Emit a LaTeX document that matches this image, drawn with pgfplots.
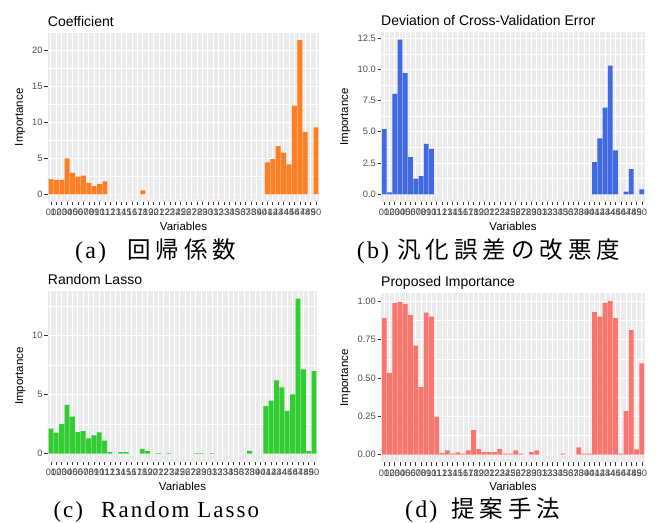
\documentclass[border=0pt]{standalone}
\usepackage{fontspec}
\setmainfont{Liberation Sans}
\newfontfamily\cjk{Noto Sans CJK JP}
\newfontfamily\capserif[LetterSpace=9]{Liberation Serif}
\usepackage{pgfplots}
\pgfplotsset{compat=1.18}
\definecolor{ggbg}{HTML}{EBEBEB}
\definecolor{gray30}{HTML}{4D4D4D}
\definecolor{gray20}{HTML}{333333}
\definecolor{cOrange}{HTML}{FF7F24}
\definecolor{cBlue}{HTML}{4169E1}
\definecolor{cGreen}{HTML}{32CD32}
\definecolor{cSalmon}{HTML}{F8766D}
\pgfplotsset{
  gg/.style={
    scale only axis,
    axis background/.style={fill=ggbg},
    axis line style={draw=none},
    tick align=outside,
    major tick length=3.5pt,
    minor tick length=0pt,
    tick style={color=gray20, line width=0.6pt},
    tick pos=left,
    xmin=0.4, xmax=50.6,
    enlargelimits=false,
    xtick={1,...,50},
    xticklabels={01,02,03,04,05,06,07,08,09,10,11,12,13,14,15,16,17,18,19,20,21,22,23,24,25,26,27,28,29,30,31,32,33,34,35,36,37,38,39,40,41,42,43,44,45,46,47,48,49,50},
    xmajorgrids, ymajorgrids, yminorgrids,
    major grid style={white, line width=0.9pt},
    minor grid style={white, line width=0.45pt},
    ybar, bar width=0.9,
    ticklabel style={font=\fontsize{9.3}{10}\selectfont, text=gray30},
    xticklabel style={inner sep=1pt, yshift=-2.5pt},
    yticklabel style={inner sep=1.5pt},
    title style={at={(0,1)}, anchor=base west, yshift=0pt, inner sep=0pt, font=\fontsize{14}{16}\selectfont},
    xlabel={Variables},
    ylabel={Importance},
    xlabel style={at={(axis description cs:0.5,0)}, anchor=base, yshift=-28.5pt, inner sep=0pt, font=\fontsize{11.5}{13}\selectfont},
    ylabel style={anchor=base, inner sep=0pt, font=\fontsize{11.5}{13}\selectfont},
  }
}
\begin{document}
\begin{tikzpicture}
\useasboundingbox (0pt,0pt) rectangle (660pt,522pt);

% (a) Coefficient
\begin{axis}[gg, at={(47.7pt,320pt)}, anchor=south west, width=271.6pt, height=169.5pt,
  ymin=-1.07, ymax=22.52,
  ytick={0,5,10,15,20}, yticklabels={0,5,10,15,20},
  minor ytick={2.5,7.5,12.5,17.5,22.5},
  title={Coefficient},
  ylabel style={at={(axis description cs:-0.091,0.5)}}]
\addplot[fill=cOrange, draw=none] coordinates {
(1,2.1) (2,2.0) (3,2.0) (4,5.0) (5,3.0) (6,2.45) (7,2.6) (8,1.6) (9,1.15) (10,1.4)
(11,1.8) (12,0) (13,0) (14,0) (15,0) (16,0) (17,0) (18,0.55) (19,0) (20,0)
(21,0) (22,0) (23,0) (24,0) (25,0) (26,0) (27,0) (28,0) (29,0) (30,0)
(31,0) (32,0) (33,0) (34,0) (35,0) (36,0) (37,0) (38,0) (39,0) (40,0)
(41,4.45) (42,4.9) (43,6.7) (44,5.8) (45,4.15) (46,12.35) (47,21.45) (48,8.65) (49,0) (50,9.3)};
\end{axis}

% (b) Deviation of CV error
\begin{axis}[gg, at={(381pt,320pt)}, anchor=south west, width=264pt, height=170pt,
  ymin=-0.62, ymax=12.99,
  ytick={0,2.5,5,7.5,10,12.5}, yticklabels={0.0,2.5,5.0,7.5,10.0,12.5},
  minor ytick={1.25,3.75,6.25,8.75,11.25},
  title={Deviation of Cross-Validation Error},
  ylabel style={at={(axis description cs:-0.125,0.5)}}]
\addplot[fill=cBlue, draw=none] coordinates {
(1,5.21) (2,0.15) (3,8.03) (4,12.37) (5,9.7) (6,2.98) (7,1.25) (8,1.46) (9,4.04) (10,3.64)
(11,0) (12,0) (13,0) (14,0) (15,0) (16,0) (17,0) (18,0) (19,0) (20,0)
(21,0) (22,0) (23,0) (24,0) (25,0) (26,0) (27,0) (28,0) (29,0) (30,0)
(31,0) (32,0) (33,0) (34,0) (35,0) (36,0) (37,0) (38,0) (39,0) (40,0)
(41,2.58) (42,4.47) (43,6.94) (44,10.3) (45,3.51) (46,0) (47,0.21) (48,2.02) (49,0) (50,0.4)};
\end{axis}

% (c) Random Lasso
\begin{axis}[gg, at={(47.7pt,60.5pt)}, anchor=south west, width=269.6pt, height=170.6pt,
  ymin=-0.66, ymax=13.80,
  ytick={0,5,10}, yticklabels={0,5,10},
  minor ytick={2.5,7.5,12.5},
  title={Random Lasso},
  ylabel style={at={(axis description cs:-0.0916,0.5)}}]
\addplot[fill=cGreen, draw=none] coordinates {
(1,2.12) (2,1.78) (3,2.51) (4,4.15) (5,3.14) (6,1.84) (7,1.92) (8,1.3) (9,1.55) (10,1.81)
(11,1.1) (12,0.14) (13,0) (14,0.14) (15,0.14) (16,0) (17,0) (18,0.42) (19,0.22) (20,0)
(21,0.05) (22,0) (23,0.05) (24,0) (25,0) (26,0) (27,0) (28,0.05) (29,0.05) (30,0)
(31,0.05) (32,0) (33,0) (34,0) (35,0) (36,0) (37,0) (38,0.25) (39,0) (40,0)
(41,4.04) (42,4.49) (43,6.21) (44,5.62) (45,3.64) (46,5.03) (47,13.14) (48,7.15) (49,0.22) (50,7.0)};
\end{axis}

% (d) Proposed Importance
\begin{axis}[gg, at={(381pt,59.6pt)}, anchor=south west, width=264pt, height=169pt,
  ymin=-0.05, ymax=1.052,
  ytick={0,0.25,0.5,0.75,1}, yticklabels={0.00,0.25,0.50,0.75,1.00},
  minor ytick={0.125,0.375,0.625,0.875},
  title={Proposed Importance},
  title style={yshift=1pt},
  ylabel style={at={(axis description cs:-0.125,0.5)}}]
\addplot[fill=cSalmon, draw=none] coordinates {
(1,0.891) (2,0.533) (3,0.989) (4,0.996) (5,0.983) (6,0.911) (7,0.711) (8,0.441) (9,0.926) (10,0.9)
(11,0.248) (12,0.01) (13,0.028) (14,0.007) (15,0.015) (16,0.007) (17,0.028) (18,0.161) (19,0.037) (20,0.017)
(21,0.017) (22,0.017) (23,0.037) (24,0.007) (25,0.007) (26,0.028) (27,0.007) (28,0) (29,0.017) (30,0.028)
(31,0) (32,0) (33,0) (34,0) (35,0.008) (36,0) (37,0) (38,0.048) (39,0.007) (40,0.007)
(41,0.93) (42,0.9) (43,0.991) (44,1.002) (45,0.891) (46,0.007) (47,0.285) (48,0.813) (49,0.035) (50,0.596)};
\end{axis}

% captions
\node[anchor=base west, inner sep=0pt, font=\capserif\fontsize{24}{26}\selectfont] at (75pt,263.5pt) {(a)};
\node[anchor=base west, inner sep=0pt, font=\cjk\fontsize{23.5}{26}\selectfont] at (127pt,263.5pt) {回\hspace{5pt}帰\hspace{5pt}係\hspace{5pt}数};
\node[anchor=base west, inner sep=0pt, font=\capserif\fontsize{24}{26}\selectfont] at (356.7pt,263.5pt) {(b)};
\node[anchor=base west, inner sep=0pt, font=\cjk\fontsize{23.5}{26}\selectfont] at (397pt,263.5pt) {汎\hspace{5pt}化\hspace{5pt}誤\hspace{5pt}差\hspace{5pt}の\hspace{5pt}改\hspace{5pt}悪\hspace{5pt}度};
\node[anchor=base west, inner sep=0pt, font=\capserif\fontsize{23}{26}\selectfont] at (53.3pt,4.5pt) {(c)};
\node[anchor=base west, inner sep=0pt, font=\capserif\fontsize{23}{26}\selectfont] at (101pt,4.5pt) {Random Lasso};
\node[anchor=base west, inner sep=0pt, font=\capserif\fontsize{24}{26}\selectfont] at (405pt,5pt) {(d)};
\node[anchor=base west, inner sep=0pt, font=\cjk\fontsize{23.5}{26}\selectfont] at (451pt,5pt) {提\hspace{5pt}案\hspace{5pt}手\hspace{5pt}法};
\end{tikzpicture}
\end{document}
